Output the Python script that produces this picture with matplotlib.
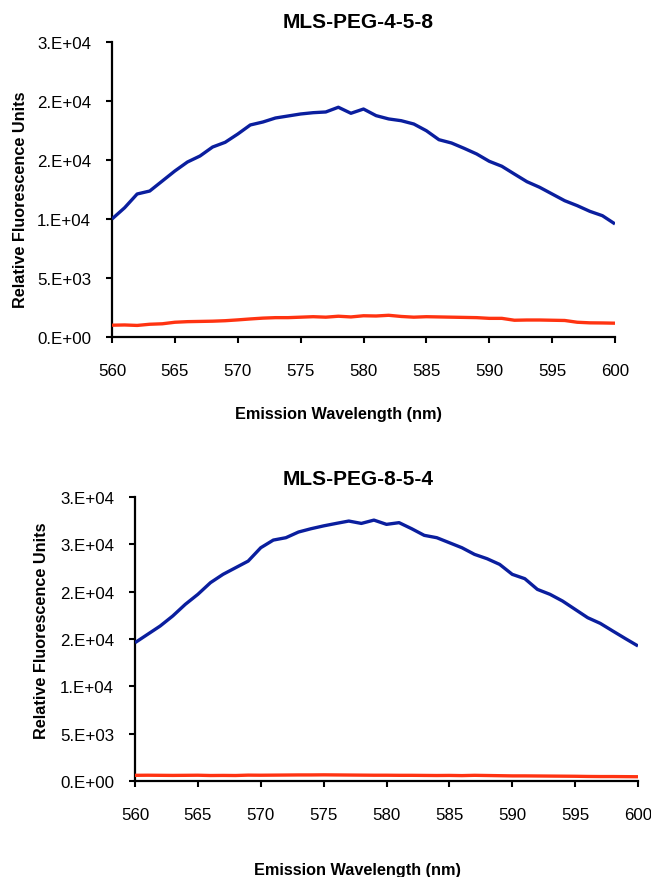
import matplotlib
matplotlib.use("Agg")
import matplotlib.pyplot as plt
import numpy as np

plt.rcParams['font.family'] = ['Liberation Sans', 'DejaVu Sans']

wavelength = list(range(560, 601))

top_title = "MLS-PEG-4-5-8"
top_blue = [10000, 10950, 12120, 12370, 13220, 14070, 14830, 15340, 16100, 16500,
            17200, 17970, 18220, 18560, 18730, 18900, 19010, 19070, 19470, 18960,
            19320, 18760, 18480, 18330, 18050, 17480, 16720, 16440, 15990, 15510,
            14890, 14470, 13810, 13160, 12690, 12120, 11550, 11130, 10650, 10280, 9580]
top_red = [1000, 1020, 980, 1080, 1120, 1250, 1300, 1320, 1340, 1380,
           1450, 1530, 1600, 1640, 1640, 1680, 1720, 1680, 1760, 1700,
           1800, 1780, 1840, 1740, 1680, 1720, 1700, 1680, 1660, 1640,
           1580, 1580, 1420, 1440, 1440, 1420, 1400, 1250, 1200, 1190, 1170]
top_yticks = [0, 5000, 10000, 15000, 20000, 25000]
top_ylabels = ["0.E+00", "5.E+03", "1.E+04", "2.E+04", "2.E+04", "3.E+04"]

bot_title = "MLS-PEG-8-5-4"
bot_blue = [14610, 15490, 16370, 17430, 18660, 19720, 20950, 21830, 22530, 23230,
            24640, 25450, 25700, 26300, 26650, 26950, 27210, 27460, 27210, 27560,
            27110, 27290, 26650, 25950, 25700, 25170, 24640, 23940, 23480, 22880,
            21830, 21370, 20240, 19720, 19010, 18130, 17250, 16650, 15840, 15040, 14260]
bot_red = [600, 610, 600, 590, 600, 610, 580, 590, 580, 620,
           610, 620, 630, 640, 640, 650, 640, 630, 620, 610,
           610, 600, 600, 590, 580, 590, 570, 600, 580, 560,
           540, 540, 530, 520, 510, 500, 480, 470, 470, 460, 450]
bot_yticks = [0, 5000, 10000, 15000, 20000, 25000, 30000]
bot_ylabels = ["0.E+00", "5.E+03", "1.E+04", "2.E+04", "2.E+04", "3.E+04", "3.E+04"]

xticks = list(range(560, 601, 5))
xlabel = "Emission Wavelength (nm)"
ylabel = "Relative Fluorescence Units"

BLUE = "#0A1E9E"
RED = "#FF3311"

W, H = 651, 878
fig = plt.figure(figsize=(W / 100, H / 100), dpi=100)

def px_axes(l, t, r, b):
    return fig.add_axes([l / W, 1 - b / H, (r - l) / W, (b - t) / H])

ax1 = px_axes(112, 43, 615, 338)
ax2 = px_axes(135, 498, 638, 782)

def style(ax, blue, red, yticks, ylabels, ymax, title, tpos, xlpos, ylpos):
    ax.plot(wavelength, blue, color=BLUE, lw=2.4, solid_capstyle='butt',
            solid_joinstyle='round', zorder=3)
    ax.plot(wavelength, red, color=RED, lw=2.4, solid_capstyle='butt',
            solid_joinstyle='round', zorder=3)
    ax.set_xlim(560, 600)
    ax.set_ylim(0, ymax)
    ax.set_xticks(xticks)
    ax.set_xticklabels([str(v) for v in xticks])
    ax.set_yticks(yticks)
    ax.set_yticklabels(ylabels)
    for s in ['top', 'right']:
        ax.spines[s].set_visible(False)
    for s in ['left', 'bottom']:
        ax.spines[s].set_linewidth(1.6)
        ax.spines[s].set_color('black')
    ax.tick_params(axis='both', direction='out', length=4, width=1.5, labelsize=12.2)
    ax.tick_params(axis='y', pad=11)
    ax.tick_params(axis='x', pad=15)
    ax.text(tpos[0], tpos[1], title, transform=ax.transAxes, ha='center', va='center',
            fontsize=15, fontweight='bold')
    ax.text(xlpos[0], xlpos[1], xlabel, transform=ax.transAxes, ha='center', va='center',
            fontsize=11.7, fontweight='bold')
    ax.text(ylpos[0], ylpos[1], ylabel, transform=ax.transAxes, ha='center', va='center',
            fontsize=11.7, fontweight='bold', rotation=90)

style(ax1, top_blue, top_red, top_yticks, top_ylabels, 25000, top_title,
      (0.489, 1.069), (0.451, -0.261), (-0.181, 0.468))
style(ax2, bot_blue, bot_red, bot_yticks, bot_ylabels, 30000, bot_title,
      (0.443, 1.066), (0.443, -0.311), (-0.185, 0.531))

fig.savefig("out.png", dpi=100)
